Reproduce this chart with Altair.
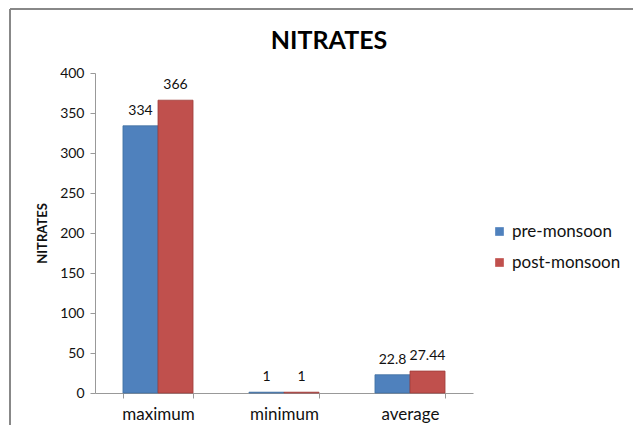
import altair as alt
import pandas as pd

categories = ["maximum", "minimum", "average"]
series = ["pre-monsoon", "post-monsoon"]
pre_values = [334, 1, 22.8]
post_values = [366, 1, 27.44]
pre_labels = ["334", "1", "22.8"]
post_labels = ["366", "1", "27.44"]
y_ticks = [0, 50, 100, 150, 200, 250, 300, 350, 400]
title_text = "NITRATES"

rows = []
for c, v, l in zip(categories, pre_values, pre_labels):
    rows.append({"category": c, "season": series[0], "value": v, "label": l})
for c, v, l in zip(categories, post_values, post_labels):
    rows.append({"category": c, "season": series[1], "value": v, "label": l})
df = pd.DataFrame(rows)

FONT = "Lato"

x_enc = alt.X("category:N", sort=categories, title=None,
              scale=alt.Scale(paddingInner=0.444, paddingOuter=0.222),
              axis=alt.Axis(labelAngle=0, labelFontSize=17, labelColor="#111",
                            labelFont=FONT, labelPadding=8, tickBand="extent",
                            grid=False,
                            tickSize=5, tickColor="#999", domainColor="#999"))
y_enc = alt.Y("value:Q", title="NITRATES",
              scale=alt.Scale(domain=[0, 400], nice=False),
              axis=alt.Axis(values=y_ticks, grid=False, labelOverlap=False,
                            labelFontSize=14, labelColor="#111", labelFont=FONT,
                            tickSize=5, tickColor="#999", domainColor="#999",
                            labelPadding=6, titleFont=FONT, titleFontSize=13,
                            titleFontWeight="bold", titleColor="#111",
                            titlePadding=10))
xoff = alt.XOffset("season:N", sort=series)

bars = alt.Chart(df).mark_bar(strokeWidth=0.8).encode(
    x=x_enc,
    xOffset=xoff,
    y=y_enc,
    color=alt.Color("season:N", sort=series,
                    scale=alt.Scale(domain=series, range=["#4F81BD", "#C0504D"]),
                    legend=alt.Legend(title=None, orient="none", legendX=396,
                                      legendY=150, symbolType="square",
                                      symbolSize=75, labelFontSize=17,
                                      labelFont=FONT, labelColor="#111",
                                      rowPadding=13, symbolStrokeWidth=0)),
    stroke=alt.Stroke("season:N", sort=series,
                      scale=alt.Scale(domain=series, range=["#3F6D9F", "#A03E3B"]),
                      legend=None),
)

labels = alt.Chart(df).mark_text(dy=-8, fontSize=14, font=FONT, color="#111",
                                 baseline="bottom").encode(
    x=x_enc,
    xOffset=xoff,
    y=y_enc,
    text="label:N",
)

title = alt.Chart(pd.DataFrame({"t": [title_text]})).mark_text(
    font=FONT, fontSize=25, fontWeight="bold", color="#000", baseline="middle"
).encode(x=alt.value(234), y=alt.value(-32), text="t:N")

frame_left = alt.Chart(df).mark_rule(color="#888", strokeWidth=1.5).encode(
    x=alt.value(-85), y=alt.value(-64), y2=alt.value(380))
frame_top = alt.Chart(df).mark_rule(color="#888", strokeWidth=1.5).encode(
    x=alt.value(-85), x2=alt.value(560), y=alt.value(-64))

chart = alt.layer(bars, labels, title, frame_left, frame_top).properties(
    width=378, height=320,
    autosize=alt.AutoSizeParams(type="none"),
    padding={"left": 87, "top": 65, "right": 160, "bottom": 32},
).configure(background="white").configure_view(stroke=None).configure_axis(grid=False)

chart.save("out.html", embed_options={"renderer": "svg", "actions": False})
